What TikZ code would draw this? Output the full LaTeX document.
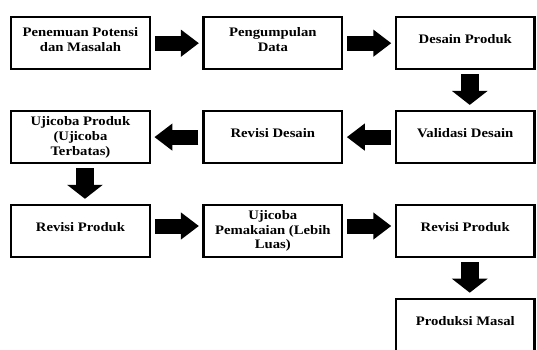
\documentclass[tikz,border=0pt]{standalone}
\usepackage{fontspec}
\setmainfont{Liberation Serif}[FakeStretch=1.13]
\usetikzlibrary{positioning,arrows.meta}

\begin{document}
\begin{tikzpicture}[x=1pt,y=1pt,
		node distance=39.5pt and 51.5pt,
		kotak/.style={draw, line width=2.4pt, inner sep=0pt,
			execute at begin node={\begin{minipage}[c][52pt][c]{138.5pt}\centering\fontsize{13}{14.8}\selectfont\bfseries},
			execute at end node={\endgraf\vspace{#1}\end{minipage}}},
		kotak/.default=8pt,
		panahH/.style={line width=15pt, -{Triangle[length=18pt,width=26pt]}, shorten <=4pt, shorten >=3.5pt},
		panahV/.style={line width=18pt, -{Triangle[length=14pt,width=35pt]}, shorten <=4pt, shorten >=5pt}]
	
		\newcommand*{\geser}{4.5pt}%
		
		\useasboundingbox (0,0) rectangle (537,349);
		\clip (0,0) rectangle (537,349);
		
		% baris atas
		\node[kotak, anchor=north west] (potensi) at (10,333) {Penemuan Potensi\\dan Masalah};
		\node[kotak, right=of potensi] (data) {Pengumpulan\\Data};
		\node[kotak, right=of data] (desain) {Desain Produk};
		
		% baris kedua
		\node[kotak, below=of desain] (validasi) {Validasi Desain};
		\node[kotak, below=of data] (revdesain) {Revisi Desain};
		\node[kotak=0pt, below=of potensi] (ujicoba) {Ujicoba Produk\\(Ujicoba\\Terbatas)};
		
		% baris ketiga
		\node[kotak, below=of ujicoba] (revproduk) {Revisi Produk};
		\node[kotak=0pt, below=of revdesain] (pemakaian) {Ujicoba\\Pemakaian (Lebih\\Luas)};
		\node[kotak, below=of validasi] (revproduk2) {Revisi Produk};
		\node[kotak, below=of revproduk2] (masal) {Produksi Masal};
		
		% panah
		\draw[panahH] (potensi) -- (data);
		\draw[panahH] (data) -- (desain);
		\draw[panahV] ([xshift=\geser]desain.south) -- ([xshift=\geser]validasi.north);
		\draw[panahH] (validasi) -- (revdesain);
		\draw[panahH] (revdesain) -- (ujicoba);
		\draw[panahV] ([xshift=\geser]ujicoba.south) -- ([xshift=\geser]revproduk.north);
		\draw[panahH] ([yshift=5pt]revproduk.east) -- ([yshift=5pt]pemakaian.west);
		\draw[panahH] ([yshift=5pt]pemakaian.east) -- ([yshift=5pt]revproduk2.west);
		\draw[panahV] ([xshift=\geser]revproduk2.south) -- ([xshift=\geser]masal.north);

	\end{tikzpicture}
\end{document}
